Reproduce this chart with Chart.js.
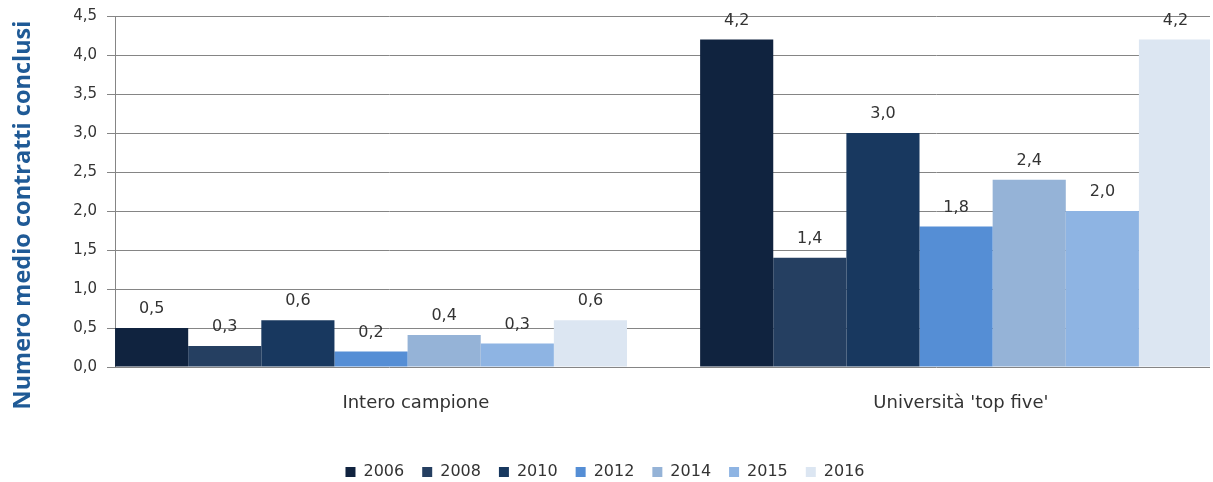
<!doctype html>
<html lang="it">
  <head>
    <meta charset="utf-8">
    <title>Numero medio contratti conclusi</title>
    <style>
      * { margin: 0; padding: 0; }
      body { background: #fff; width: 1213px; height: 482px; overflow: hidden; }
      .chartBox { position: relative; width: 1213px; height: 482px; }
    </style>
  </head>
  <body>
    <div class="chartBox">
      <canvas id="myChart"></canvas>
    </div>
    <script src="https://cdn.jsdelivr.net/npm/chart.js/dist/chart.umd.min.js"></script>
    <script>
    // data
    const categories = ['Intero campione', "Università 'top five'"];
    const years = ['2006', '2008', '2010', '2012', '2014', '2015', '2016'];
    const interoCampione = [0.5, 0.27, 0.6, 0.2, 0.41, 0.3, 0.6];
    const topFive = [4.2, 1.4, 3.0, 1.8, 2.4, 2.0, 4.2];
    const colors = ['#10233F', '#253F61', '#18385F', '#558ED5', '#95B3D7', '#8EB4E3', '#DCE6F2'];
    const yTitle = 'Numero medio contratti conclusi';

    const FONT = '"DejaVu Sans", sans-serif';
    const fmt = v => v.toFixed(1).replace('.', ',');
    const catTicks = s => { s.ticks = categories.map((c, i) => ({ value: i })); };

    // value labels above each bar + rotated y title
    const barLabels = {
      id: 'barLabels',
      afterDatasetsDraw(chart) {
        const ctx = chart.ctx;
        ctx.save();
        ctx.font = '16px ' + FONT;
        ctx.fillStyle = '#333';
        ctx.textAlign = 'center';
        ctx.textBaseline = 'middle';
        chart.data.datasets.forEach((ds, i) => {
          chart.getDatasetMeta(i).data.forEach((bar, j) => {
            ctx.fillText(fmt(ds.data[j].y), bar.x, bar.y - 19);
          });
        });
        ctx.translate(23, 215);
        ctx.rotate(-Math.PI / 2);
        ctx.font = 'bold 23.5px "Open Sans", sans-serif';
        ctx.fillStyle = '#1F5A96';
        ctx.fillText(yTitle, 0, 0);
        ctx.restore();
      }
    };

    const data = {
      datasets: years.map((yr, i) => ({
        label: yr,
        data: [{ x: 0, y: interoCampione[i] }, { x: 1, y: topFive[i] }],
        backgroundColor: colors[i],
        borderWidth: 0,
        categoryPercentage: 0.875,
        barPercentage: 1.0,
        xAxisID: 'x'
      }))
    };

    const config = {
      type: 'bar',
      data,
      plugins: [barLabels],
      options: {
        responsive: true,
        maintainAspectRatio: false,
        animation: false,
        layout: { padding: { top: 16, right: 3, bottom: -8, left: 0 } },
        plugins: {
          legend: {
            position: 'bottom',
            labels: {
              font: { family: FONT, size: 16 },
              color: '#333',
              boxWidth: 10,
              boxHeight: 10,
              padding: 18
            }
          },
          tooltip: { enabled: false }
        },
        scales: {
          x: {
            type: 'linear',
            display: false,
            offset: false,
            min: -0.4376,
            max: 1.434,
            afterBuildTicks: catTicks
          },
          xl: {
            type: 'linear',
            position: 'bottom',
            offset: false,
            min: -0.552,
            max: 1.457,
            afterBuildTicks: catTicks,
            afterFit: s => { s.height = 79; },
            grid: { display: false, drawTicks: false },
            border: { display: false },
            ticks: {
              padding: 26,
              color: '#333',
              font: { family: FONT, size: 18 },
              callback: v => categories[v]
            }
          },
          y: {
            min: 0,
            max: 4.5,
            afterFit: s => { s.width = 115; s.paddingTop = 0; s.paddingBottom = 0; },
            ticks: {
              stepSize: 0.5,
              padding: 10,
              color: '#333',
              font: { family: FONT, size: 15 },
              callback: v => fmt(v)
            },
            grid: { color: '#858585', tickLength: 8 },
            border: { color: '#858585' }
          }
        }
      }
    };

    const myChart = new Chart(document.getElementById('myChart'), config);
    </script>
  </body>
</html>
